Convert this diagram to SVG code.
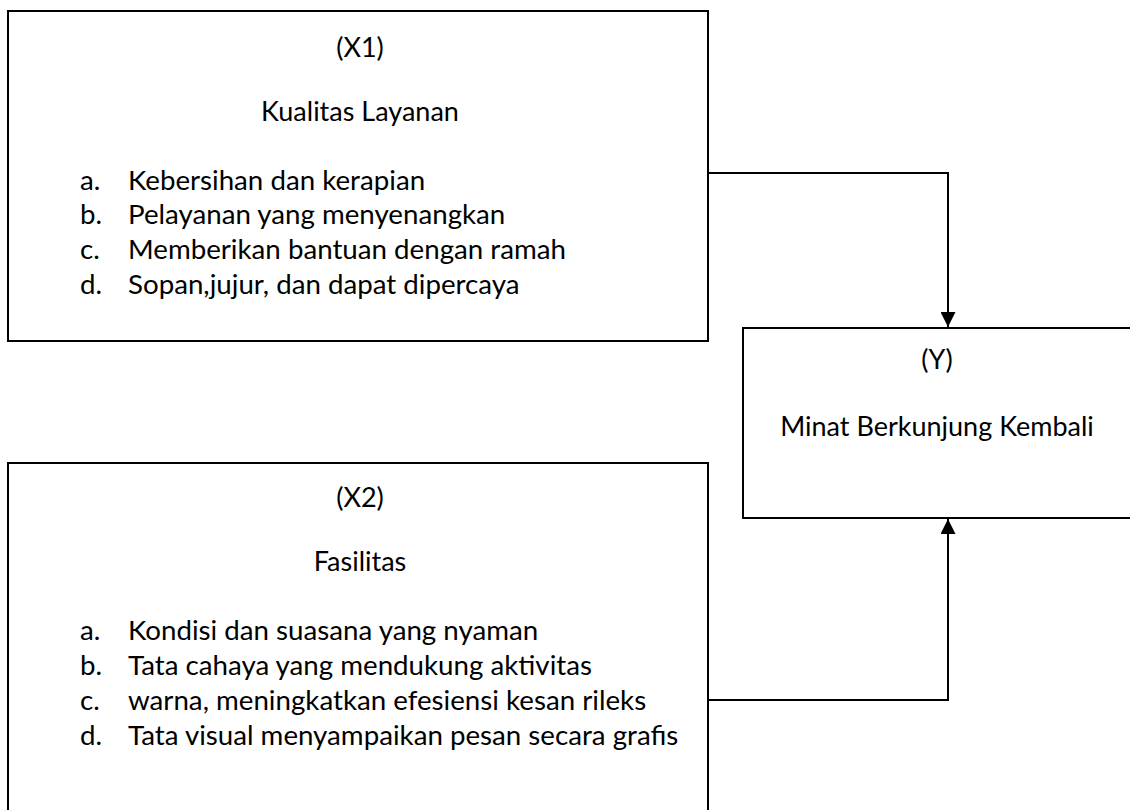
<svg xmlns="http://www.w3.org/2000/svg" width="1130" height="810" viewBox="0 0 1130 810">
<style>
.box{fill:#fff;stroke:#000;stroke-width:2}
.t{font-family:Lato,"Liberation Sans",sans-serif;font-size:27px;fill:#000}
.l{font-size:27.7px}
.c{text-anchor:middle}
.edge{fill:none;stroke:#000;stroke-width:2}
</style>
<defs>
<marker id="arr" viewBox="0 0 10 10" refX="10" refY="5" markerWidth="7.5" markerHeight="7.5" orient="auto" markerUnits="strokeWidth">
<path d="M0,0 L10,5 L0,10 Z" fill="#000"/>
</marker>
</defs>
<rect width="1130" height="810" fill="#fff"/>
<g id="node-x1">
<rect class="box" x="8" y="11" width="700" height="330"/>
<text class="t c" x="360" y="57">(X1)</text>
<text class="t c" x="360" y="121">Kualitas Layanan</text>
<text class="t l" x="80" y="190">a.</text><text class="t l" x="128" y="190">Kebersihan dan kerapian</text>
<text class="t l" x="80" y="224">b.</text><text class="t l" x="128" y="224">Pelayanan yang menyenangkan</text>
<text class="t l" x="80" y="259">c.</text><text class="t l" x="128" y="259">Memberikan bantuan dengan ramah</text>
<text class="t l" x="80" y="294">d.</text><text class="t l" x="128" y="294">Sopan,jujur, dan dapat dipercaya</text>
</g>
<g id="node-x2">
<rect class="box" x="8" y="463" width="700" height="360"/>
<text class="t c" x="360" y="507">(X2)</text>
<text class="t c" x="360" y="571">Fasilitas</text>
<text class="t l" x="80" y="640">a.</text><text class="t l" x="128" y="640">Kondisi dan suasana yang nyaman</text>
<text class="t l" x="80" y="675">b.</text><text class="t l" x="128" y="675">Tata cahaya yang mendukung aktivitas</text>
<text class="t l" x="80" y="710">c.</text><text class="t l" x="128" y="710">warna, meningkatkan efesiensi kesan rileks</text>
<text class="t l" x="80" y="745">d.</text><text class="t l" x="128" y="745">Tata visual menyampaikan pesan secara grafis</text>
</g>
<g id="node-y">
<rect class="box" x="743" y="328" width="400" height="190"/>
<text class="t c" x="937" y="369">(Y)</text>
<text class="t c" x="937" y="436">Minat Berkunjung Kembali</text>
</g>
<g id="connectors">
<path class="edge" d="M708,173 H948 V327" marker-end="url(#arr)"/>
<path class="edge" d="M708,700 H948 V519" marker-end="url(#arr)"/>
</g>
</svg>
